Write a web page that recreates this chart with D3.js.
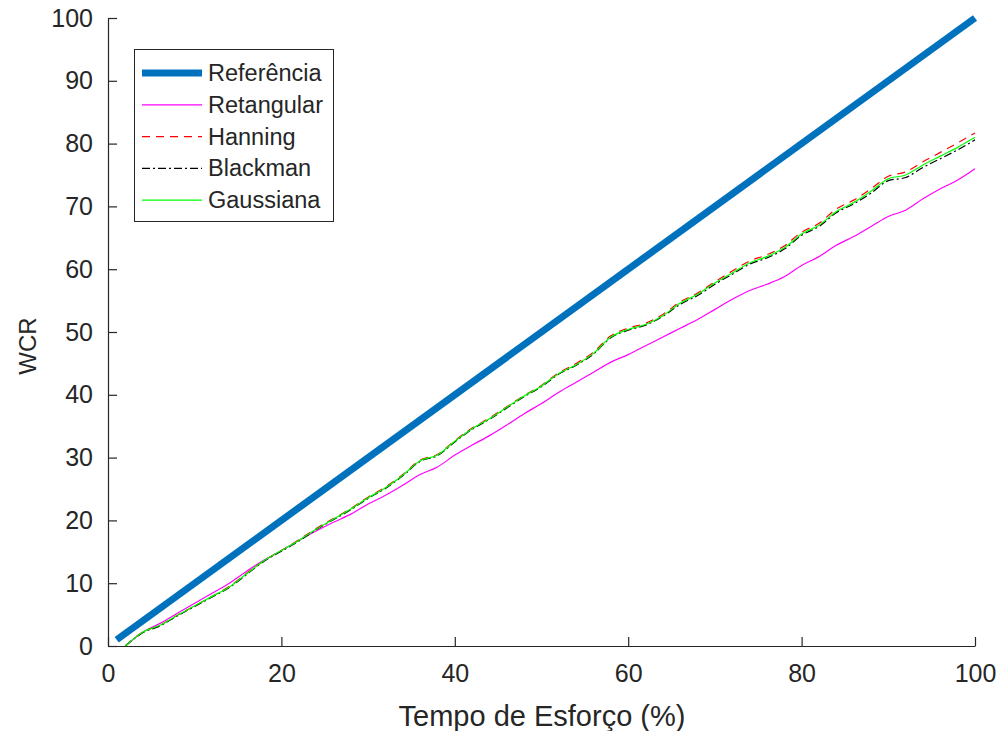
<!DOCTYPE html>
<html><head><meta charset="utf-8">
<script src="https://cdn.jsdelivr.net/npm/d3@7"></script>
<style>body{margin:0;background:#fff}svg{display:block}text{font-family:"Liberation Sans",Arial,sans-serif;fill:#262626}</style>
</head><body>
<svg id="c" width="1000" height="731"></svg>
<script>
const xs = [2,4,6,8,10,12,14,16,18,20,22,24,26,28,30,32,34,36,38,40,42,44,46,48,50,52,54,56,58,60,62,64,66,68,70,72,74,76,78,80,82,84,86,88,90,92,94,96,98,100];
const refX = [1,100];
const refY = [1,100];
const retangular = [0,2.2,3.6,5.2,6.8,8.4,10.0,11.9,13.7,15.2,16.8,18.3,19.7,21.0,22.6,24.0,25.6,27.3,28.5,30.4,32.0,33.5,35.2,37.0,38.6,40.4,42.0,43.6,45.2,46.4,47.8,49.2,50.6,52.0,53.6,55.2,56.6,57.6,58.8,60.6,62.0,63.8,65.2,66.8,68.4,69.4,71.2,72.8,74.2,76.0];
const hanning = [0,2.2,3.3,4.9,6.4,7.9,9.5,11.6,13.6,15.2,16.9,18.7,20.3,21.9,23.7,25.3,27.3,29.6,30.5,32.7,34.7,36.3,38.1,39.9,41.5,43.5,45.0,46.8,49.4,50.6,51.4,52.8,54.8,56.2,58.0,59.7,61.3,62.3,63.7,65.9,67.3,69.6,71.0,72.8,74.8,75.5,77.1,78.6,80.1,81.7];
const blackman = [0,2.1,3.2,4.8,6.3,7.8,9.3,11.4,13.5,15.1,16.7,18.5,20.1,21.7,23.5,25.1,27.1,29.4,30.3,32.5,34.5,36.1,37.9,39.7,41.3,43.3,44.7,46.5,49.1,50.3,51.1,52.5,54.4,55.8,57.6,59.2,60.8,61.8,63.2,65.4,66.8,69.0,70.4,72.1,74.1,74.6,76.2,77.6,79.0,80.6];
const gaussiana = [0,2.2,3.3,4.9,6.4,7.9,9.4,11.5,13.6,15.2,16.8,18.6,20.2,21.8,23.6,25.2,27.2,29.5,30.4,32.6,34.6,36.2,38.0,39.8,41.4,43.4,44.8,46.6,49.2,50.4,51.2,52.6,54.6,56.0,57.8,59.4,61.0,62.0,63.4,65.6,67.0,69.2,70.6,72.4,74.4,75.0,76.6,78.0,79.4,81.0];
const xTicks = [0,20,40,60,80,100];
const yTicks = [0,10,20,30,40,50,60,70,80,90,100];
const names = ["Referência","Retangular","Hanning","Blackman","Gaussiana"];

const svg = d3.select("#c");
const x = d3.scaleLinear().domain([0,100]).range([108,975]);
const y = d3.scaleLinear().domain([0,100]).range([646,18]);

const styles = [
  {color:"#0072BD", w:7, dash:null},
  {color:"#FF00FF", w:1.2, dash:null},
  {color:"#FF0000", w:1.2, dash:"8,6"},
  {color:"#000000", w:1.2, dash:"8,3,2,3"},
  {color:"#00FF00", w:1.2, dash:null}
];

const series = [
  refX.map((v,i)=>[v,refY[i]]),
  xs.map((v,i)=>[v,retangular[i]]),
  xs.map((v,i)=>[v,hanning[i]]),
  xs.map((v,i)=>[v,blackman[i]]),
  xs.map((v,i)=>[v,gaussiana[i]])
];
const line = d3.line().x(d=>x(d[0])).y(d=>y(d[1])).curve(d3.curveMonotoneX);
series.forEach((s,i)=>{
  svg.append("path").datum(s).attr("d",line).attr("fill","none")
    .attr("stroke",styles[i].color).attr("stroke-width",styles[i].w)
    .attr("stroke-dasharray",styles[i].dash);
});

// axes
const xa = svg.append("g").attr("transform","translate(0,646)")
  .call(d3.axisBottom(x).tickValues(xTicks).tickSizeInner(-9).tickSizeOuter(0).tickPadding(18));
const ya = svg.append("g").attr("transform","translate(108,0)")
  .call(d3.axisLeft(y).tickValues(yTicks).tickSizeInner(-9).tickSizeOuter(0).tickPadding(15));
[xa,ya].forEach(a=>{
  a.select(".domain").attr("stroke","#262626").attr("stroke-width",1.2);
  a.selectAll(".tick line").attr("stroke","#262626").attr("stroke-width",1.2);
  a.selectAll(".tick text").attr("font-size",25).attr("fill","#333").attr("font-family","'Liberation Sans',Arial,sans-serif");
});
svg.append("text").attr("x",542).attr("y",726).attr("text-anchor","middle").attr("font-size",29).attr("fill","#333").text("Tempo de Esforço (%)");
svg.append("text").attr("transform","translate(36,346) rotate(-90)").attr("text-anchor","middle").attr("font-size",24).attr("fill","#333").text("WCR");

// legend
const lg = svg.append("g");
lg.append("rect").attr("x",134.5).attr("y",49.5).attr("width",199).attr("height",172)
  .attr("fill","#fff").attr("stroke","#262626").attr("stroke-width",1);
names.forEach((n,i)=>{
  const yy = 73 + i*31.8;
  lg.append("line").attr("x1",142).attr("x2",202).attr("y1",yy).attr("y2",yy)
    .attr("stroke",styles[i].color).attr("stroke-width",styles[i].w)
    .attr("stroke-dasharray",styles[i].dash);
  lg.append("text").attr("x",208).attr("y",yy+8).attr("font-size",23.5).attr("fill","#111").text(n);
});
</script>
</body></html>
